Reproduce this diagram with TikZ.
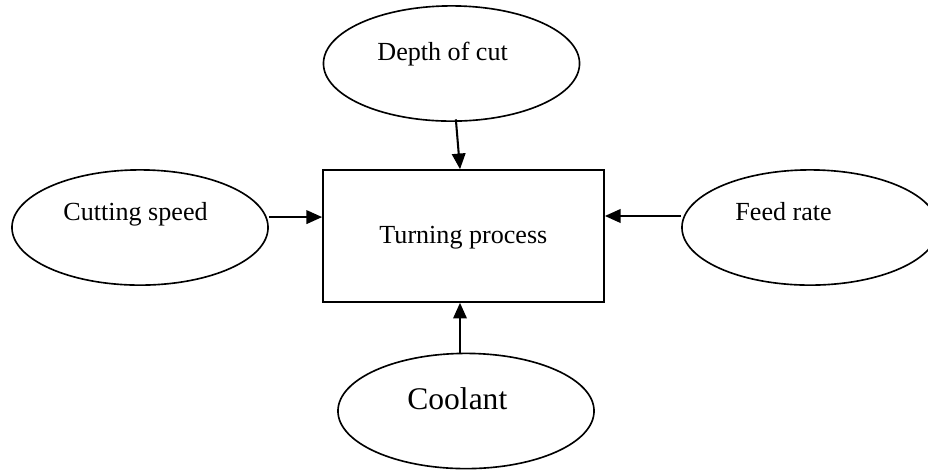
\documentclass[tikz,border=0pt]{standalone}
\usepackage{fontspec}
\setmainfont{Liberation Serif}
\usetikzlibrary{shapes.geometric,arrows.meta}
\begin{document}
\begin{tikzpicture}[x=0.46pt,y=-0.46pt,
  oval/.style={draw,ellipse,line width=0.75pt,inner sep=0pt,minimum width=117.8pt,minimum height=53pt},
  box/.style={draw,rectangle,line width=0.75pt,inner sep=0pt,minimum width=129.3pt,minimum height=60.7pt},
  lbl/.style={inner sep=0pt,anchor=base west,font=\fontsize{12}{14}\selectfont},
  arr/.style={line width=0.95pt,-{Triangle[length=7.2pt,width=6.2pt]}}]
\useasboundingbox (0,0) rectangle (928,470);
\clip (0,0) rectangle (928,470);
\node[oval] (top) at (451.5,63.5) {};
\node[oval] (left) at (140,227.5) {};
\node[oval] (right) at (810,227.5) {};
\node[oval] (bottom) at (466,411) {};
\node[box] (proc) at (463.5,236) {};
\node[lbl] (tdepth) at (377,60) {Depth of cut};
\node[lbl] (tcut) at (63,220) {Cutting speed};
\node[lbl] (tfeed) at (735,220) {Feed rate};
\node[lbl] (tproc) at (379,243) {Turning process};
\node[lbl,font=\fontsize{14.5}{17}\selectfont] (tcool) at (407,409) {Coolant};
\coordinate (A) at ([yshift=4.8pt]left.east);
\coordinate (B) at ([yshift=5.3pt]right.west);
\coordinate (C) at ([xshift=-2.76pt]bottom.north);
\draw[arr] ([xshift=2pt,yshift=1.2pt]top.south) -- ([xshift=-1.6pt]proc.north);
\draw[arr] (A) -- (A -| proc.west);
\draw[arr] (B) -- (B -| proc.east);
\draw[arr] (C) -- (C |- proc.south);
\end{tikzpicture}
\end{document}
